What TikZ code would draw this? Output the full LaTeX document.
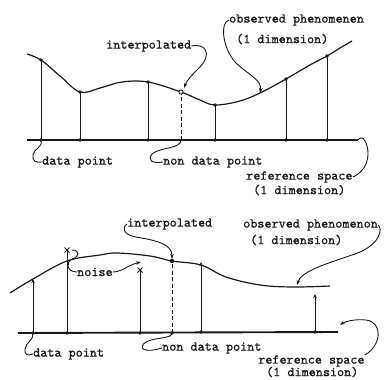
\documentclass[tikz,border=0pt]{standalone}
\usepackage{fontspec}
\newfontfamily\twfont{lmmono10-regular.otf}[FakeBold=0.9]
\usetikzlibrary{arrows.meta,calc}
\begin{document}
\begin{tikzpicture}[x=1pt,y=-1pt,
  lbl/.style={font=\fontsize{13.5}{14}\selectfont\twfont, inner sep=0pt, anchor=west, text=black!90},
  conn/.style={draw=black!90, line width=0.9pt},
  tipa/.style={-{Stealth[length=5pt,width=3.5pt]}},
  axisline/.style={draw=black!90, line width=1.9pt},
  curveline/.style={draw=black!90, line width=1.2pt},
  stem/.style={draw=black!90, line width=1pt},
  dstem/.style={draw=black!90, line width=1pt, dash pattern=on 4pt off 2.5pt},
  dotm/.style={fill=black!90, draw=none},
  upstem/.style={draw=black!90, line width=1pt, -{Stealth[length=4pt,width=3.5pt]}}
]
\useasboundingbox (0,0) rectangle (386,380);

% ================= TOP =================
\coordinate (ta1) at (27,140);
\coordinate (ta2) at (358,140);
\draw[axisline] (ta1) -- (ta2);
\draw[curveline] plot[smooth, tension=0.6] coordinates {(27,54) (41,60) (60,76) (80,92) (100,88) (122,82) (148,82) (181,92) (200,100) (215,105) (240,101) (262,92) (286,79) (310,65) (327,56) (340,48) (352,41)};

\foreach \n/\x/\y in {a/41/60, b/80/92, c/148/82, d/215/105, e/286/79, f/327/56}{
  \coordinate (tt\n) at (\x,\y);
  \coordinate (tb\n) at (\x,140);
  \draw[stem] (tb\n) -- (tt\n);
  \fill[dotm] (tt\n) circle (1.9);
  \fill[dotm] (tb\n) circle (1.9);
}
\coordinate (tti) at (181,92);
\coordinate (tbi) at (181,140);
\draw[dstem] (tbi) -- (tti);
\draw[draw=black!90, line width=0.9pt, fill=white] (tti) circle (2.1);

\node[lbl] (interp1) at (106,46) {interpolated};
\node[lbl] (obs1) at (229,20) {observed phenomenen};
\node[lbl] (obs1b) at (236,39) {(1 dimension)};
\node[lbl] (dp1) at (42,162) {data point};
\node[lbl] (ndp1) at (163,162) {non data point};
\node[lbl] (ref1) at (246,177) {reference space};
\node[lbl] (ref1b) at (253,190) {(1 dimension)};

\coordinate (iarr1) at (184,88);
\coordinate (oarr1) at (260,93);
\draw[conn, tipa] (interp1.east) .. controls (206,43) and (212,54) .. (200,67) .. controls (191,76) and (187,80) .. (iarr1);
\draw[conn, tipa] (obs1.west) .. controls (220,22) and (222,48) .. (236,63) .. controls (250,76) and (262,80) .. (oarr1);
\draw[conn] (tba) .. controls (43,148) and (34,148) .. (33,155) .. controls (32,161) and (36,163) .. (dp1.west);
\draw[conn] (tbi) .. controls (181,149) and (160,147) .. (152,154) .. controls (147,160) and (152,164) .. (ndp1.west);
\draw[conn] (ref1.east) .. controls (367,171) and (370,156) .. (367,146) .. controls (365,139) and (362,135) .. (ta2);

% ================= BOTTOM =================
\coordinate (ba1) at (18,333);
\coordinate (ba2) at (338,332);
\draw[axisline] (ba1) -- (ba2);
\draw[curveline] plot[smooth, tension=0.6] coordinates {(10,293) (33,279) (67,261) (100,255) (117,253) (150,256) (172,261) (201,265) (226,277) (260,285) (293,287) (330,286)};

\coordinate (bb1) at (33,333);
\coordinate (bt1) at (33,279);
\coordinate (bb2) at (67,333);
\coordinate (bt2) at (67,250);
\coordinate (bb3) at (140,333);
\coordinate (bt3) at (140,270);
\coordinate (bbi) at (172,333);
\coordinate (bti) at (172,261);
\coordinate (bb4) at (201,332);
\coordinate (bt4) at (201,262);
\coordinate (bb5) at (315,332);
\coordinate (bt5) at (315,294);

\draw[upstem] (bb1) -- (bt1);
\draw[stem] (bb2) -- (bt2);
\draw[stem] (bb3) -- (bt3);
\draw[dstem] (bbi) -- (bti);
\draw[upstem] (bb4) -- (bt4);
\draw[upstem] (bb5) -- (bt5);
\foreach \p in {bt2,bt3}{
  \draw[draw=black!90, line width=1pt] ($(\p)+(-2.5,-2.5)$) -- ($(\p)+(2.5,2.5)$) ($(\p)+(-2.5,2.5)$) -- ($(\p)+(2.5,-2.5)$);
}
\fill[dotm] (bti) circle (2.2);
\foreach \p in {bb1,bb2,bb3,bbi,bb4,bb5}{ \fill[dotm] (\p) circle (1.9); }

\node[lbl] (interp2) at (127,224) {interpolated};
\node[lbl] (obs2) at (243,225) {observed phenomenon};
\node[lbl] (obs2b) at (250,240) {(1 dimension)};
\node[lbl] (noise) at (77,272) {noise};
\node[lbl] (dp2) at (33,354) {data point};
\node[lbl] (ndp2) at (162,348) {non data point};
\node[lbl] (ref2) at (258,361) {reference space};
\node[lbl] (ref2b) at (266,372) {(1 dimension)};

\coordinate (iarr2) at (172,259);
\coordinate (oarr2) at (297,285);
\coordinate (narr) at (141,262);
\coordinate (rarr2) at (340,325);
\coordinate (nhook) at (72,250);

\draw[conn, tipa] (interp2.west) .. controls (121,228) and (124,235) .. (136,237) .. controls (160,241) and (172,245) .. (iarr2);
\draw[conn, tipa] (obs2.east) .. controls (383,228) and (381,246) .. (352,255) .. controls (322,265) and (301,272) .. (oarr2);
\draw[conn] (nhook) .. controls (80,250) and (80,257) .. (72,259) .. controls (66,261) and (66,272) .. (noise.west);
\draw[conn, tipa] (noise.east) .. controls (122,272) and (128,265) .. (narr);
\draw[conn] (bb1) .. controls (34,340) and (26,342) .. (25,349) .. controls (24,355) and (28,356) .. (dp2.west);
\draw[conn] (bbi) .. controls (172,339) and (155,337) .. (146,342) .. controls (138,347) and (142,354) .. (ndp2.west);
\draw[conn, tipa] (ref2.north east) .. controls (382,345) and (383,322) .. (366,320) .. controls (356,319) and (346,321) .. (rarr2);
\end{tikzpicture}
\end{document}
